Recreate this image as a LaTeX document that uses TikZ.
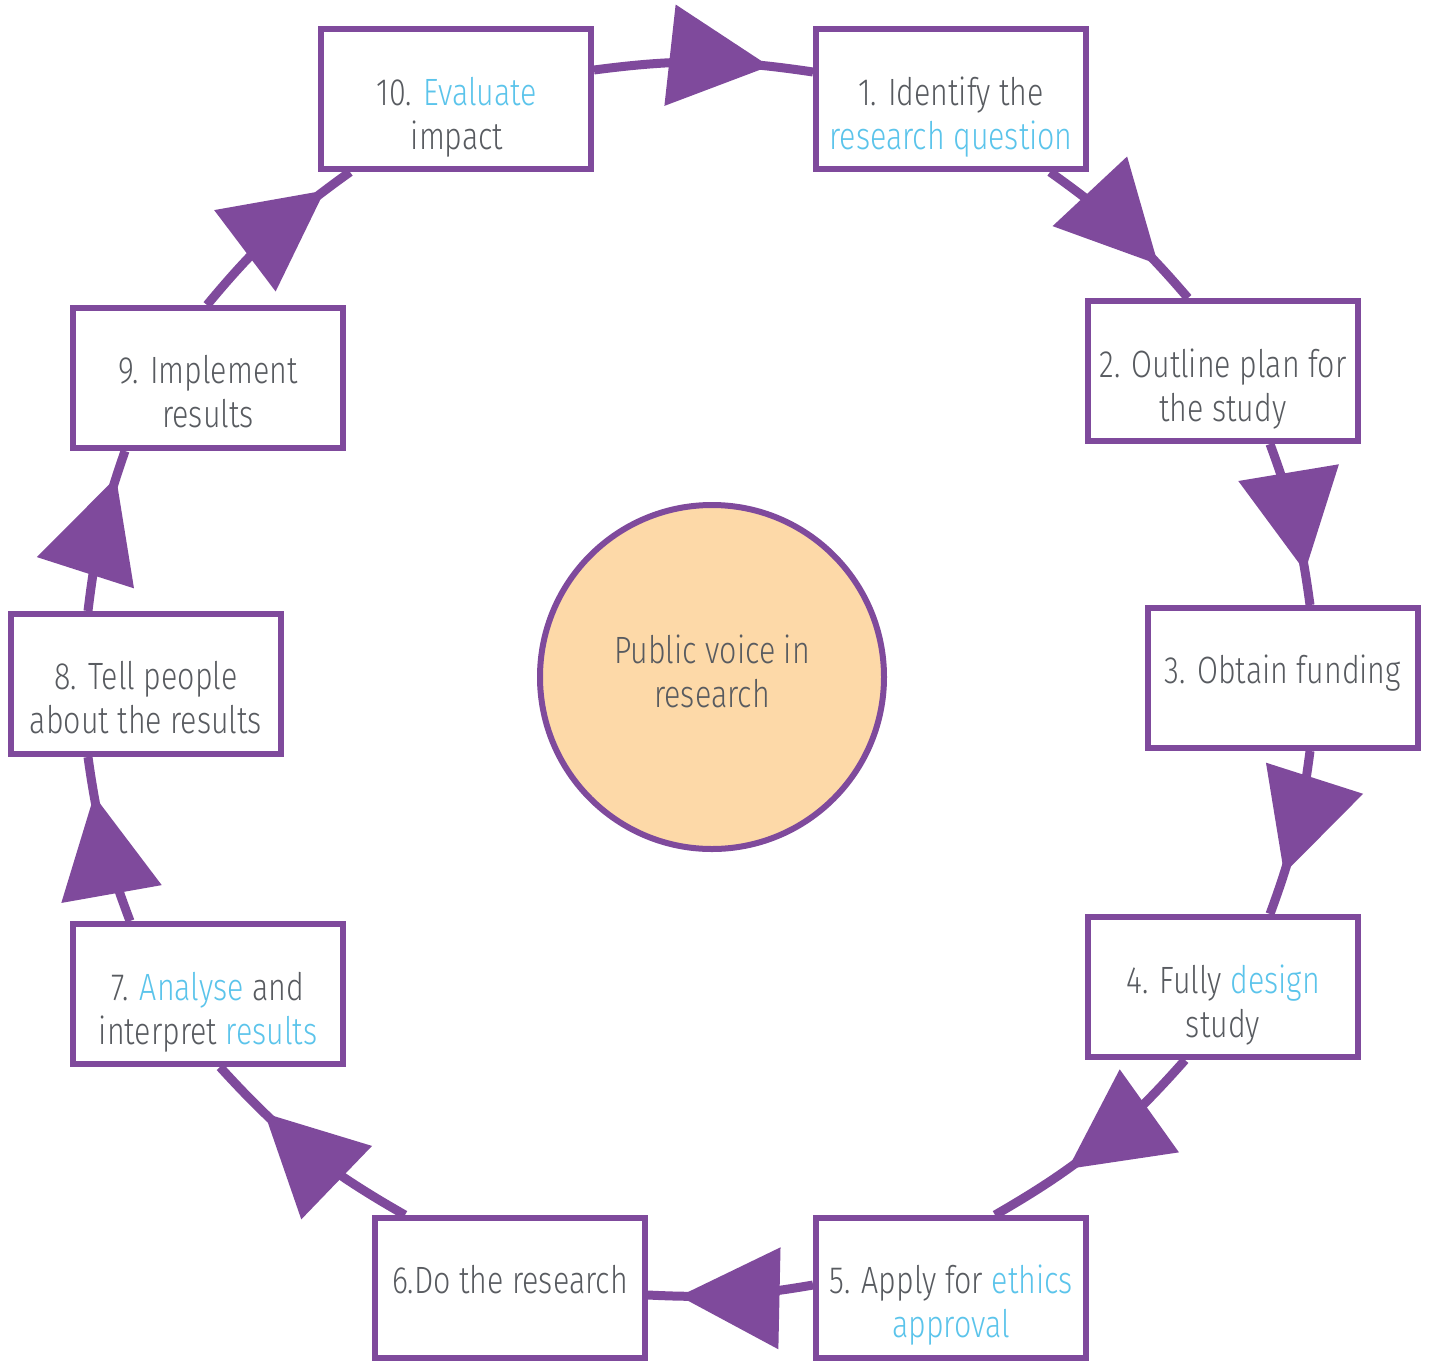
\documentclass[tikz,border=0pt]{standalone}
\usepackage{fontspec}
\setmainfont{Fira Sans Light}[FakeStretch=0.8]
\usetikzlibrary{decorations.markings,calc}
\definecolor{pp}{RGB}{127,74,156}
\definecolor{txt}{RGB}{88,91,96}
\definecolor{hlc}{RGB}{91,196,235}
\definecolor{peach}{RGB}{253,217,168}
\newcommand{\hlt}[1]{\textcolor{hlc}{#1}}
\newcommand{\twol}[2]{\begin{tabular}[t]{@{}c@{}}#1\\#2\end{tabular}}
\tikzset{
  stepbox/.style={draw=pp, line width=6pt, fill=white, minimum width=270pt, minimum height=140pt, inner sep=0pt},
  lbl/.style={anchor=base, inner sep=0pt, text=txt, font=\fontsize{38}{44}\selectfont},
  conn/.style={draw=pp, line width=9pt, postaction=decorate},
  tipat/.style={decoration={markings, mark=at position #1 with {\fill[pp] (0pt,0pt) -- (-100pt,51pt) -- (-100pt,-51pt) -- cycle;}}}
}
\begin{document}
\begin{tikzpicture}[x=1pt,y=-1pt]
\useasboundingbox (0,0) rectangle (1429,1360);
% boxes
\node[stepbox] (b10) at (456,99) {};
\node[stepbox] (b1) at (951,99) {};
\node[stepbox] (b2) at (1223,371) {};
\node[stepbox] (b3) at (1283,678) {};
\node[stepbox] (b4) at (1223,987) {};
\node[stepbox] (b5) at (951,1288) {};
\node[stepbox] (b6) at (510,1288) {};
\node[stepbox] (b7) at (208,994) {};
\node[stepbox] (b8) at (146,684) {};
\node[stepbox] (b9) at (208,378) {};
\node[circle, draw=pp, line width=6pt, fill=peach, minimum size=344pt, inner sep=0pt] (c) at (712,677) {};
% labels
\node[lbl] (t10) at (457,105) {\twol{10. \hlt{Evaluate}}{impact}};
\node[lbl] (t1) at (951,105) {\twol{1. Identify the}{\hlt{research question}}};
\node[lbl] (t2) at (1223,377) {\twol{2. Outline plan for}{the study}};
\node[lbl] (t3) at (1283,683) {3. Obtain funding};
\node[lbl] (t4) at (1223,993) {\twol{4. Fully \hlt{design}}{study}};
\node[lbl] (t5) at (951,1293) {\twol{5. Apply for \hlt{ethics}}{\hlt{approval}}};
\node[lbl] (t6) at (510,1293) {6.Do the research};
\node[lbl] (t7) at (208,1000) {\twol{7. \hlt{Analyse} and}{interpret \hlt{results}}};
\node[lbl] (t8) at (146,689) {\twol{8. Tell people}{about the results}};
\node[lbl] (t9) at (208,383) {\twol{9. Implement}{results}};
\node[lbl] (tc) at (712,663) {\twol{Public voice in}{research}};
% connectors
\draw[conn, tipat=0.80] ([yshift=29pt]b10.east) to[bend left=8] ([yshift=27pt]b1.west);
\draw[conn, tipat=0.76] ([xshift=99pt]b1.south) to[bend left=7] ([xshift=-35pt]b2.north);
\draw[conn, tipat=0.795] ([xshift=47pt]b2.south) to[bend left=6.3] ([xshift=27pt]b3.north);
\draw[conn, tipat=0.745] ([xshift=27pt]b3.south) to[bend left=6.4] ([xshift=47pt]b4.north);
\draw[conn, tipat=0.65] ([xshift=-38pt]b4.south) to[bend left=9.3] ([xshift=44pt]b5.north);
\draw[conn, tipat=0.81] ([yshift=3pt]b5.west) to[bend left=6.3] ([yshift=-7pt]b6.east);
\draw[conn, tipat=0.73] ([xshift=-105pt]b6.north) to[bend left=9] ([xshift=12pt]b7.south);
\draw[conn, tipat=0.77] ([xshift=-78pt]b7.north) to[bend left=6.4] ([xshift=-58pt]b8.south);
\draw[conn, tipat=0.83] ([xshift=-58pt]b8.north) to[bend left=6.2] ([xshift=-83pt]b9.south);
\draw[conn, tipat=0.84] ([xshift=-1pt]b9.north) to[bend left=7.4] ([xshift=-106pt]b10.south);
\end{tikzpicture}
\end{document}
